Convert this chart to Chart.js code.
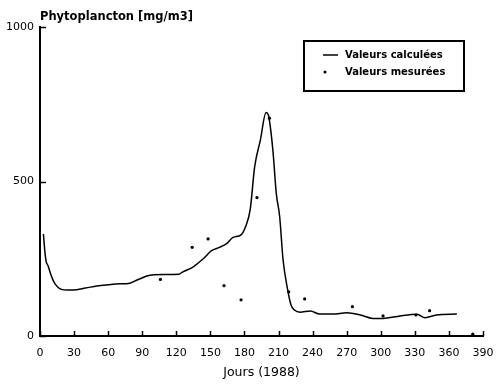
<!DOCTYPE html>
<html>
<head>
<meta charset="utf-8">
<script src="https://cdn.jsdelivr.net/npm/chart.js@4/dist/chart.umd.min.js"></script>
<style>
  html, body { margin: 0; padding: 0; background: #fff; }
  #wrap { width: 500px; height: 384px; }
</style>
</head>
<body>
<div id="wrap"><canvas id="phyto"></canvas></div>
<script>
// valeurs calculées (courbe)
const calcDays = [3, 4.5, 5.5, 7, 9, 11, 13, 16, 19, 24, 29, 40, 50, 60, 70, 78, 86, 94, 100, 110,
    122, 126, 135, 144, 151, 158, 164, 170, 177, 181, 185, 189, 194, 199, 201, 205, 208, 211, 214,
    218, 221, 224, 229, 238, 246, 258, 270, 282, 293, 302, 317, 332, 339, 349, 367];
const calcValues = [330, 265, 240, 228, 205, 185, 170, 157, 151, 149, 149, 155, 162, 166, 169, 170, 182, 194, 198, 199,
    200, 208, 224, 251, 276, 287, 298, 319, 327, 354, 408, 548, 634, 723, 715, 602, 462, 386, 246,
    150, 100, 84, 77, 81, 71, 71, 75, 68, 57, 57, 65, 70, 59, 68, 71];

// valeurs mesurées (points)
const measDays = [106, 134, 148, 162, 177, 191, 202, 219, 233, 275, 302, 331, 343, 381];
const measValues = [183, 287, 314, 163, 117, 448, 705, 143, 120, 95, 65, 68, 82, 6];

const xTicks = [0, 30, 60, 90, 120, 150, 180, 210, 240, 270, 300, 330, 360, 390];
const yTicks = [0, 500, 1000];

const font = '"DejaVu Sans", Verdana, sans-serif';

const toPoints = (xs, ys) => xs.map((x, i) => ({ x: x, y: ys[i] }));

// petits traits intérieurs + titre + légende encadrée
const decor = {
    id: 'decor',
    afterDraw(chart) {
        const ctx = chart.ctx;
        const xs = chart.scales.x, ys = chart.scales.y;
        ctx.save();
        ctx.strokeStyle = '#000';
        ctx.lineWidth = 1.5;
        xTicks.forEach(t => {
            const px = Math.round(xs.getPixelForValue(t)) + 0.5;
            ctx.beginPath();
            ctx.moveTo(px, ys.bottom);
            ctx.lineTo(px, ys.bottom - 5);
            ctx.stroke();
        });
        yTicks.forEach(t => {
            const py = Math.round(ys.getPixelForValue(t)) + 0.5;
            ctx.beginPath();
            ctx.moveTo(xs.left, py);
            ctx.lineTo(xs.left + 6, py);
            ctx.stroke();
        });

        ctx.fillStyle = '#000';
        ctx.font = 'bold 11.5px ' + font;
        ctx.textBaseline = 'alphabetic';
        ctx.textAlign = 'left';
        ctx.fillText('Phytoplancton [mg/m3]', 40, 20);

        // légende
        ctx.lineWidth = 2;
        ctx.strokeRect(304, 41, 160, 50);
        ctx.lineWidth = 1.5;
        ctx.beginPath();
        ctx.moveTo(323, 55);
        ctx.lineTo(338, 55);
        ctx.stroke();
        ctx.beginPath();
        ctx.arc(325, 72, 1.5, 0, Math.PI * 2);
        ctx.fill();
        ctx.font = 'bold 10px ' + font;
        ctx.textBaseline = 'middle';
        ctx.fillText('Valeurs calculées', 345, 55);
        ctx.fillText('Valeurs mesurées', 345, 72);
        ctx.restore();
    }
};

new Chart(document.getElementById('phyto').getContext('2d'), {
    type: 'scatter',
    data: {
        datasets: [{
            type: 'line',
            label: 'Valeurs calculées',
            data: toPoints(calcDays, calcValues),
            borderColor: '#000',
            borderWidth: 1.5,
            pointRadius: 0,
            cubicInterpolationMode: 'monotone',
            fill: false
        }, {
            label: 'Valeurs mesurées',
            data: toPoints(measDays, measValues),
            backgroundColor: '#000',
            borderColor: '#000',
            pointRadius: 1.6,
            pointBorderWidth: 0
        }]
    },
    options: {
        responsive: true,
        maintainAspectRatio: false,
        animation: false,
        layout: { padding: { top: 27, right: 17, left: 0, bottom: 0 } },
        plugins: {
            legend: { display: false },
            tooltip: { enabled: false }
        },
        scales: {
            x: {
                type: 'linear',
                min: 0,
                max: 390,
                afterBuildTicks: s => { s.ticks = xTicks.map(v => ({ value: v })); },
                afterFit: s => { s.height = 48; s.paddingLeft = 0; s.paddingRight = 0; },
                grid: { display: false, drawTicks: false },
                border: { display: true, color: '#000', width: 2 },
                ticks: {
                    color: '#000',
                    padding: 11,
                    maxRotation: 0,
                    autoSkip: false,
                    callback: v => String(v),
                    font: { family: font, size: 11 }
                },
                title: {
                    display: true,
                    text: 'Jours (1988)',
                    color: '#000',
                    padding: { top: 0, bottom: 4 },
                    font: { family: font, size: 12.5 }
                }
            },
            y: {
                min: 0,
                max: 1000,
                afterBuildTicks: s => { s.ticks = yTicks.map(v => ({ value: v })); },
                afterFit: s => { s.width = 40; s.paddingTop = 0; s.paddingBottom = 0; },
                grid: { display: false, drawTicks: false },
                border: { display: true, color: '#000', width: 2 },
                ticks: {
                    color: '#000',
                    padding: 6,
                    callback: v => String(v),
                    font: { family: font, size: 11 }
                }
            }
        }
    },
    plugins: [decor]
});
</script>
</body>
</html>
